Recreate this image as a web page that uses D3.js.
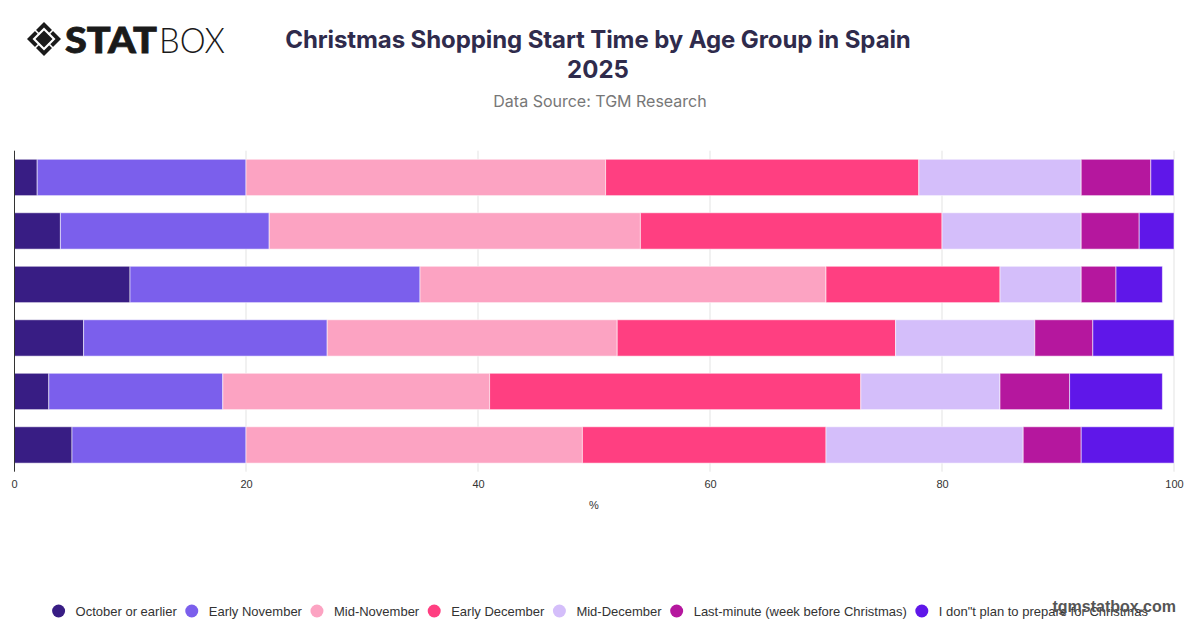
<!DOCTYPE html>
<html>
<head>
<meta charset="utf-8">
<script src="https://cdn.jsdelivr.net/npm/d3@7"></script>
<style>
  html, body { margin: 0; padding: 0; background: #fff; }
  svg { display: block; }
</style>
</head>
<body>
<div id="chart"></div>
<script>
// age groups (not labelled in the original chart)
const categories = ["18-24", "25-34", "35-44", "45-54", "55-64", "65+"];
const seriesNames = [
  "October or earlier",
  "Early November",
  "Mid-November",
  "Early December",
  "Mid-December",
  "Last-minute (week before Christmas)",
  "I don\"t plan to prepare for Christmas"
];
const seriesColors = ["#381d84", "#7b5fec", "#fca3c2", "#ff3f81", "#d4befa", "#b5179e", "#5f17e9"];
// one array per series, one value per age group (%)
const octoberOrEarlier = [2, 4, 10, 6, 3, 5];
const earlyNovember    = [18, 18, 25, 21, 15, 15];
const midNovember      = [31, 32, 35, 25, 23, 29];
const earlyDecember    = [27, 26, 15, 24, 32, 21];
const midDecember      = [14, 12, 7, 12, 12, 17];
const lastMinute       = [6, 5, 3, 5, 6, 5];
const noPlan           = [2, 3, 4, 7, 8, 8];
const xTicks = [0, 20, 40, 60, 80, 100];

const seriesValues = [octoberOrEarlier, earlyNovember, midNovember, earlyDecember, midDecember, lastMinute, noPlan];

const W = 1200, H = 628;
const margin = {top: 150.7, right: 26, bottom: 156.3, left: 14};
const innerW = W - margin.left - margin.right;
const innerH = H - margin.top - margin.bottom;

const svg = d3.select("#chart").append("svg")
  .attr("width", W)
  .attr("height", H);

// ---- logo ----
const logo = svg.append("g").attr("class", "logo").attr("transform", "translate(44,39)");
logo.append("path")
  .attr("d", "M0,-17 L17,0 L0,17 L-17,0 Z")
  .attr("fill", "#1a1a1a");
logo.append("path")
  .attr("d", "M0,-11.5 L11.5,0 L0,11.5 L-11.5,0 Z")
  .attr("fill", "#fff");
logo.append("path")
  .attr("d", "M0,-8.5 L8.5,0 L0,8.5 L-8.5,0 Z")
  .attr("fill", "#1a1a1a");
[[1, 1], [1, -1], [-1, 1], [-1, -1]].forEach(([sx, sy]) => {
  logo.append("line")
    .attr("x1", sx * 4.5).attr("y1", sy * 4.5)
    .attr("x2", sx * 9.5).attr("y2", sy * 9.5)
    .attr("stroke", "#fff").attr("stroke-width", 1.6);
});
svg.append("text")
  .attr("x", 65).attr("y", 52.5)
  .attr("textLength", 92)
  .attr("lengthAdjust", "spacingAndGlyphs")
  .style("font-family", "Lato, 'DejaVu Sans'")
  .style("font-weight", 900)
  .style("font-size", "36px")
  .attr("fill", "#1a1a1a")
  .attr("stroke", "#1a1a1a")
  .attr("stroke-width", 0.8)
  .text("STAT");
svg.append("text")
  .attr("x", 159).attr("y", 52.5)
  .attr("textLength", 66)
  .attr("lengthAdjust", "spacingAndGlyphs")
  .style("font-family", "Lato, 'DejaVu Sans'")
  .style("font-weight", 300)
  .style("font-size", "36px")
  .attr("fill", "#1a1a1a")
  .text("BOX");

// ---- titles ----
svg.append("text")
  .attr("x", 598).attr("y", 48)
  .attr("text-anchor", "middle")
  .style("font-family", "Inter, 'Noto Sans', sans-serif")
  .style("font-weight", 700)
  .style("font-size", "24px")
  .style("letter-spacing", "-0.1px")
  .attr("fill", "#2f2b4c")
  .text("Christmas Shopping Start Time by Age Group in Spain");
svg.append("text")
  .attr("x", 598).attr("y", 78)
  .attr("text-anchor", "middle")
  .style("font-family", "Inter, 'Noto Sans', sans-serif")
  .style("font-weight", 700)
  .style("font-size", "24px")
  .attr("fill", "#2f2b4c")
  .text("2025");
svg.append("text")
  .attr("x", 600).attr("y", 107)
  .attr("text-anchor", "middle")
  .style("font-family", "Inter, 'Noto Sans', sans-serif")
  .style("font-size", "16px")
  .attr("fill", "#777")
  .text("Data Source: TGM Research");

// ---- plot ----
const g = svg.append("g")
  .attr("transform", "translate(" + margin.left + "," + margin.top + ")");

const xScale = d3.scaleLinear().domain([0, 100]).range([0, innerW]);
const yScale = d3.scaleBand().domain(categories).range([0, innerH])
  .paddingInner(0.32).paddingOuter(0.16);

// gridlines
g.append("g").attr("class", "grid")
  .selectAll("line")
  .data(xTicks.slice(1))
  .join("line")
  .attr("x1", d => xScale(d)).attr("x2", d => xScale(d))
  .attr("y1", 0).attr("y2", innerH)
  .attr("stroke", "#e3e3e3").attr("stroke-width", 1);

// stack
const rows = categories.map((c, i) => {
  const row = {category: c};
  seriesNames.forEach((s, j) => { row[s] = seriesValues[j][i]; });
  return row;
});
const stacked = d3.stack().keys(seriesNames)(rows);

g.selectAll(".series")
  .data(stacked)
  .join("g")
  .attr("class", "series")
  .attr("fill", (d, i) => seriesColors[i])
  .selectAll("rect")
  .data(d => d)
  .join("rect")
  .attr("x", d => xScale(d[0]))
  .attr("y", d => yScale(d.data.category))
  .attr("width", d => xScale(d[1]) - xScale(d[0]))
  .attr("height", yScale.bandwidth())
  .attr("stroke", "#fff")
  .attr("stroke-opacity", 0.55)
  .attr("stroke-width", 1);

// y axis line only
g.append("line")
  .attr("x1", 0.5).attr("x2", 0.5)
  .attr("y1", 0).attr("y2", innerH)
  .attr("stroke", "#333").attr("stroke-width", 1);

// x axis labels
const xAxis = d3.axisBottom(xScale).tickValues(xTicks).tickSize(0).tickPadding(9);
const xAxisG = g.append("g").attr("class", "x-axis")
  .attr("transform", "translate(0," + innerH + ")")
  .call(xAxis);
xAxisG.select(".domain").remove();
xAxisG.selectAll("text")
  .style("font-family", "'Liberation Sans', Arial, sans-serif")
  .style("font-size", "11px")
  .attr("fill", "#333");

g.append("text")
  .attr("x", innerW / 2).attr("y", innerH + 37)
  .attr("text-anchor", "middle")
  .style("font-family", "'Liberation Sans', Arial, sans-serif")
  .style("font-size", "11px")
  .attr("fill", "#333")
  .text("%");

// ---- legend ----
const legend = svg.append("g").attr("class", "legend");
const items = legend.selectAll("g")
  .data(seriesNames)
  .join("g");
items.append("circle")
  .attr("r", 6.5)
  .attr("cy", 0)
  .attr("fill", (d, i) => seriesColors[i]);
items.append("text")
  .attr("x", 17).attr("y", 4.5)
  .style("font-family", "'Liberation Sans', Arial, sans-serif")
  .style("font-size", "13px")
  .attr("fill", "#333")
  .text(d => d);
let offset = 0;
const positions = [];
items.each(function () {
  const tw = d3.select(this).select("text").node().getComputedTextLength();
  positions.push(offset);
  offset += 17 + tw + 15;
});
const totalW = offset - 15 + 6.5;
const startX = 600 - totalW / 2 + 6.5;
items.attr("transform", (d, i) => "translate(" + (startX + positions[i]) + ",611)");

// watermark (overlaps the last legend item, as in the original)
svg.append("text")
  .attr("x", 1176).attr("y", 612)
  .attr("text-anchor", "end")
  .style("font-family", "'Liberation Sans', Arial, sans-serif")
  .style("font-weight", 700)
  .style("font-size", "16px")
  .attr("fill", "#555")
  .text("tgmstatbox.com");
</script>
</body>
</html>
